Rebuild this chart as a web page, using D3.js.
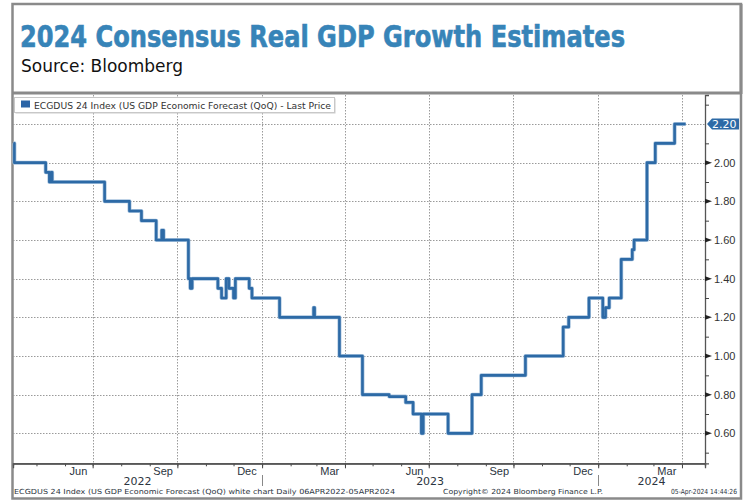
<!DOCTYPE html>
<html>
<head>
<meta charset="utf-8">
<script src="https://cdn.jsdelivr.net/npm/d3@7"></script>
<style>
  body { margin: 0; background: #fff; }
  svg { display: block; font-family: "DejaVu Sans", Verdana, sans-serif; }
</style>
</head>
<body>
<div class="chart"></div>
<script>
// change points of the ECGDUS 24 series (value holds until next date)
var dates = [
  "2022-04-06", "2022-04-07", "2022-05-11", "2022-05-15", "2022-05-17", "2022-05-18",
  "2022-07-14", "2022-08-10", "2022-08-23", "2022-09-08", "2022-09-14", "2022-09-16",
  "2022-10-13", "2022-10-15", "2022-10-17", "2022-11-14", "2022-11-18", "2022-11-23",
  "2022-11-26", "2022-12-01", "2022-12-03", "2022-12-18", "2022-12-21", "2023-01-20",
  "2023-02-26", "2023-02-27", "2023-03-26", "2023-04-20", "2023-05-19", "2023-06-06",
  "2023-06-14", "2023-06-23", "2023-06-25", "2023-07-22", "2023-08-17", "2023-08-27",
  "2023-10-14", "2023-11-24", "2023-11-30", "2023-12-22", "2024-01-06", "2024-01-09",
  "2024-01-13", "2024-01-26", "2024-02-07", "2024-02-09", "2024-02-23", "2024-03-03",
  "2024-03-24", "2024-04-05"
];
var values = [
  2.10, 2.00, 1.95, 1.90, 1.95, 1.90,
  1.80, 1.75, 1.70, 1.60, 1.65, 1.60,
  1.40, 1.35, 1.40, 1.35, 1.30, 1.40,
  1.35, 1.30, 1.40, 1.35, 1.30, 1.20,
  1.25, 1.20, 1.00, 0.80, 0.79, 0.76,
  0.70, 0.60, 0.70, 0.60, 0.80, 0.90,
  1.00, 1.15, 1.20, 1.30, 1.20, 1.25,
  1.30, 1.50, 1.55, 1.60, 2.00, 2.10,
  2.20, 2.20
];

var yMajorTicks = [0.6, 0.8, 1.0, 1.2, 1.4, 1.6, 1.8, 2.0, 2.2];
var yMinorTicks = [0.5, 0.7, 0.9, 1.1, 1.3, 1.5, 1.7, 1.9, 2.1, 2.3];
var monthLabelDates = ["2022-06-15", "2022-09-15", "2022-12-15", "2023-03-15",
  "2023-06-15", "2023-09-15", "2023-12-15", "2024-03-15"];
var yearLabels = ["2022", "2023", "2024"];
var lastPrice = 2.20;

var svgWidth = 747;
var svgHeight = 500;

var plot = { left: 13, right: 705, top: 95, bottom: 463.3 };

var parseDate = d3.utcParse("%Y-%m-%d");
var series = dates.map(function(d, i) {
  return { date: parseDate(d), value: values[i] };
});

var svg = d3.select(".chart")
  .append("svg")
  .attr("width", svgWidth)
  .attr("height", svgHeight);

// frame + title box
svg.append("rect")
  .attr("x", 12.5).attr("y", 4)
  .attr("width", 728.5).attr("height", 494.5)
  .attr("fill", "none")
  .attr("stroke", "#8a8a8a")
  .attr("stroke-width", 2.5);

svg.append("line")
  .attr("x1", 12).attr("x2", 742)
  .attr("y1", 93).attr("y2", 93)
  .attr("stroke", "#8a8a8a")
  .attr("stroke-width", 3);

svg.append("line")
  .attr("x1", 741).attr("x2", 741)
  .attr("y1", 4).attr("y2", 94)
  .attr("stroke", "#8a8a8a")
  .attr("stroke-width", 3);

svg.append("text")
  .attr("x", 20)
  .attr("y", 47)
  .attr("textLength", 605)
  .attr("lengthAdjust", "spacingAndGlyphs")
  .style("font-family", "'Liberation Sans Narrow', 'DejaVu Sans Condensed', sans-serif")
  .style("font-weight", "bold")
  .style("font-size", "30px")
  .attr("fill", "#3784b8")
  .attr("stroke", "#3784b8")
  .attr("stroke-width", 0.6)
  .text("2024 Consensus Real GDP Growth Estimates");

svg.append("text")
  .attr("x", 21)
  .attr("y", 72)
  .style("font-size", "17px")
  .attr("fill", "#111")
  .text("Source: Bloomberg");

// scales
var x = d3.scaleUtc()
  .domain([new Date(Date.UTC(2022, 3, 5, 12)), new Date(Date.UTC(2024, 3, 26))])
  .range([plot.left, plot.right]);

var y = d3.scaleLinear()
  .domain([0.445, 2.35])
  .range([plot.bottom, plot.top]);

// gridlines
var grid = svg.append("g")
  .attr("stroke", "#9a9a9a")
  .attr("stroke-dasharray", "1.5,1.5")
  .attr("stroke-width", 1);

grid.selectAll(".hgrid")
  .data(yMajorTicks)
  .enter()
  .append("line")
  .attr("x1", plot.left)
  .attr("x2", plot.right)
  .attr("y1", d => Math.round(y(d)) + 0.5)
  .attr("y2", d => Math.round(y(d)) + 0.5);

var quarterStarts = d3.utcMonth.every(3).range(x.domain()[0], x.domain()[1]);
grid.selectAll(".vgrid")
  .data(quarterStarts)
  .enter()
  .append("line")
  .attr("x1", d => Math.round(x(d)) + 0.5)
  .attr("x2", d => Math.round(x(d)) + 0.5)
  .attr("y1", plot.top)
  .attr("y2", plot.bottom);

// x axis: monthly minor ticks, quarterly longer ticks, labels mid month
var xMinor = d3.axisBottom(x)
  .ticks(d3.utcMonth.every(1))
  .tickSize(3)
  .tickFormat("");

var xMajor = d3.axisBottom(x)
  .tickValues(quarterStarts)
  .tickSize(5)
  .tickFormat("");

var xLabels = d3.axisBottom(x)
  .tickValues(monthLabelDates.map(parseDate))
  .tickSize(0)
  .tickPadding(4)
  .tickFormat(d3.utcFormat("%b"));

[xMinor, xMajor, xLabels].forEach(function(ax) {
  var g = svg.append("g")
    .attr("transform", `translate(0, ${plot.bottom})`)
    .call(ax);
  g.select(".domain").attr("stroke", "#555").attr("stroke-width", 1.3);
  g.selectAll(".tick line").attr("stroke", "#444");
  g.selectAll(".tick text")
    .style("font-size", "11px")
    .attr("fill", "#2b3440");
});

// year labels and separators
var yearSpans = yearLabels.map(function(yr) {
  var a = new Date(Date.UTC(+yr, 0, 1));
  var b = new Date(Date.UTC(+yr + 1, 0, 1));
  var lo = a < x.domain()[0] ? x.domain()[0] : a;
  var hi = b > x.domain()[1] ? x.domain()[1] : b;
  return { label: yr, start: a, mid: x(lo) / 2 + x(hi) / 2 };
});

svg.selectAll(".year")
  .data(yearSpans)
  .enter()
  .append("text")
  .attr("x", d => d.mid)
  .attr("y", 484.5)
  .attr("text-anchor", "middle")
  .style("font-size", "11px")
  .attr("fill", "#2b3440")
  .text(d => d.label);

svg.selectAll(".yearsep")
  .data(yearSpans.filter(d => d.start > x.domain()[0]))
  .enter()
  .append("line")
  .attr("x1", d => Math.round(x(d.start)) + 0.5)
  .attr("x2", d => Math.round(x(d.start)) + 0.5)
  .attr("y1", 475)
  .attr("y2", 486)
  .attr("stroke", "#888");

// y axis on the right
var yMinorAxis = d3.axisRight(y)
  .tickValues(yMinorTicks)
  .tickSize(4)
  .tickFormat("");

var yLabelAxis = d3.axisRight(y)
  .tickValues(yMajorTicks.filter(d => d !== lastPrice))
  .tickSize(0)
  .tickPadding(9)
  .tickFormat(d3.format(".2f"));

var yg = svg.append("g")
  .attr("transform", `translate(${plot.right}, 0)`)
  .call(yMinorAxis);
yg.select(".domain").attr("stroke", "#555").attr("stroke-width", 1.3);
yg.selectAll(".tick line").attr("stroke", "#444");

var yl = svg.append("g")
  .attr("transform", `translate(${plot.right}, 0)`)
  .call(yLabelAxis);
yl.select(".domain").remove();
yl.selectAll(".tick text")
  .style("font-size", "11px")
  .attr("fill", "#333");

// wedge shaped major ticks
svg.selectAll(".wedge")
  .data(yMajorTicks.filter(d => d !== lastPrice))
  .enter()
  .append("path")
  .attr("d", d => `M${plot.right},${y(d) - 2.5}L${plot.right + 7},${y(d)}L${plot.right},${y(d) + 2.5}Z`)
  .attr("fill", "#222");

// series line
var line = d3.line()
  .x(d => x(d.date))
  .y(d => y(d.value))
  .curve(d3.curveStepAfter);

svg.append("path")
  .datum(series)
  .attr("d", line)
  .attr("fill", "none")
  .attr("stroke", "#a9c4de")
  .attr("stroke-width", 4)
  .attr("stroke-linejoin", "round");

svg.append("path")
  .datum(series)
  .attr("d", line)
  .attr("fill", "none")
  .attr("stroke", "#2d6aa6")
  .attr("stroke-width", 2.6)
  .attr("stroke-linejoin", "round");

// last price flag
var fy = y(lastPrice);
svg.append("path")
  .attr("d", `M${plot.right + 2},${fy}L${plot.right + 7},${fy - 5.5}L739,${fy - 5.5}L739,${fy + 5.5}L${plot.right + 7},${fy + 5.5}Z`)
  .attr("fill", "#2d6aa6");

svg.append("text")
  .attr("x", 736.5)
  .attr("y", fy + 4)
  .attr("text-anchor", "end")
  .style("font-size", "11px")
  .attr("fill", "#fff")
  .text(d3.format(".2f")(lastPrice));

// legend
svg.append("rect")
  .attr("x", 15.5).attr("y", 98.5)
  .attr("width", 320).attr("height", 15)
  .attr("fill", "#ccc");
svg.append("rect")
  .attr("x", 14.5).attr("y", 97.5)
  .attr("width", 320).attr("height", 15)
  .attr("fill", "#fff")
  .attr("stroke", "#c8c8c8");
svg.append("rect")
  .attr("x", 21).attr("y", 100.5)
  .attr("width", 9).attr("height", 7)
  .attr("fill", "#2a64a6");
svg.append("text")
  .attr("x", 34)
  .attr("y", 108.5)
  .attr("textLength", 297)
  .attr("lengthAdjust", "spacingAndGlyphs")
  .style("font-size", "8.5px")
  .attr("fill", "#333")
  .text("ECGDUS 24 Index (US GDP Economic Forecast (QoQ) - Last Price");

// footer
var footer = svg.append("g")
  .style("font-size", "7px")
  .attr("fill", "#2b3440");

footer.append("text")
  .attr("x", 14)
  .attr("y", 494)
  .attr("textLength", 381)
  .attr("lengthAdjust", "spacingAndGlyphs")
  .text("ECGDUS 24 Index (US GDP Economic Forecast (QoQ) white chart  Daily 06APR2022-05APR2024");

footer.append("text")
  .attr("x", 443)
  .attr("y", 494)
  .attr("textLength", 160)
  .attr("lengthAdjust", "spacingAndGlyphs")
  .text("Copyright\u00a9 2024 Bloomberg Finance L.P.");

footer.append("text")
  .attr("x", 671)
  .attr("y", 494)
  .attr("textLength", 66)
  .attr("lengthAdjust", "spacingAndGlyphs")
  .text("05-Apr-2024 14:44:26");
</script>
</body>
</html>
